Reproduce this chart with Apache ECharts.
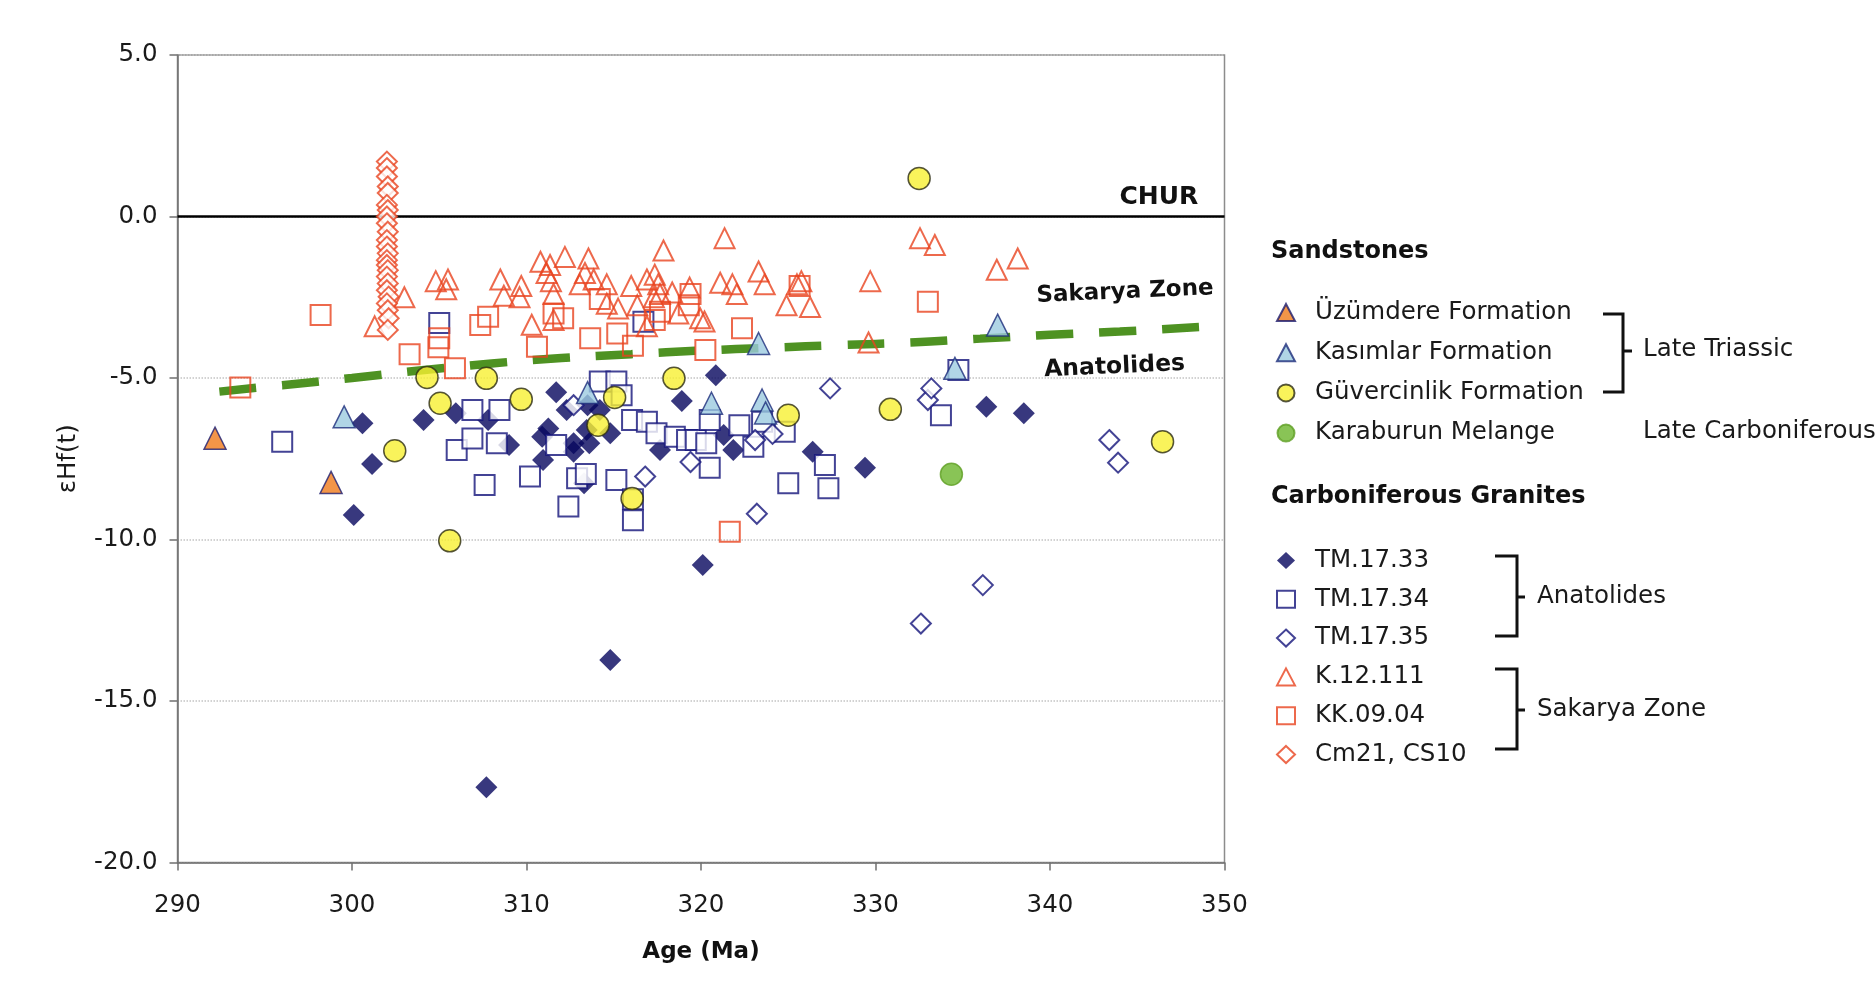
<!DOCTYPE html>
<html>
<head>
<meta charset="utf-8">
<script src="https://cdn.jsdelivr.net/npm/echarts@6/dist/echarts.min.js"></script>
<style>
  html, body { margin: 0; padding: 0; background: #ffffff; }
  #chart { width: 1876px; height: 1002px; }
</style>
</head>
<body>
<div id="chart"></div>
<script>
// ---- axes ----
const xMin = 290, xMax = 350, xStep = 10;
const yMin = -20, yMax = 5, yStep = 5;

// ---- reference lines ----
const churLine = [[290, 0], [350, 0]];
const zoneBoundary = [[292.4, -5.42], [296, -5.22], [300, -5.0], [304, -4.76], [308, -4.55], [312, -4.38],
  [316, -4.26], [320, -4.15], [324, -4.06], [328, -3.98], [332, -3.9], [336, -3.78], [340, -3.66],
  [344, -3.56], [348.9, -3.41]];

// ---- sandstones: [age (Ma), εHf(t)] ----
const uzumdere = [[292.15, -6.86], [298.8, -8.23]];
const kasimlar = [[299.55, -6.2], [313.5, -5.45], [320.6, -5.78], [323.3, -3.93], [323.5, -5.68],
  [323.7, -6.08], [334.55, -4.7], [337.0, -3.36]];
const guvercinlik = [[302.45, -7.25], [304.3, -4.98], [305.05, -5.78], [305.6, -10.04], [307.7, -5.01],
  [309.7, -5.66], [314.1, -6.46], [315.05, -5.6], [316.05, -8.73], [318.45, -5.01], [325.0, -6.15],
  [330.85, -5.97], [332.5, 1.18], [346.45, -6.97]];
const karaburun = [[334.35, -7.98]];

// ---- Carboniferous granites ----
const tm1733 = [[300.1, -9.24], [300.6, -6.4], [301.15, -7.66], [304.1, -6.3], [305.95, -6.09],
  [307.7, -17.67], [307.8, -6.3], [309.0, -7.07], [310.9, -6.82], [310.95, -7.54], [311.25, -6.56],
  [311.7, -5.44], [312.3, -5.99], [312.7, -7.02], [312.7, -7.28], [313.3, -8.26], [313.45, -6.61],
  [313.5, -5.84], [313.6, -7.02], [314.2, -5.99], [314.8, -6.71], [314.8, -13.73], [317.65, -7.23],
  [318.9, -5.71], [320.1, -10.79], [320.85, -4.91], [321.3, -6.76], [321.85, -7.23], [326.4, -7.28],
  [329.4, -7.78], [336.35, -5.89], [338.5, -6.09]];
const tm1734 = [[296.0, -6.97], [305.0, -3.3], [306.0, -7.23], [306.9, -5.99], [306.9, -6.87],
  [307.6, -8.31], [308.3, -7.02], [308.45, -5.99], [310.2, -8.05], [311.7, -7.07], [312.4, -8.98],
  [312.9, -8.1], [313.4, -7.97], [314.2, -5.11], [315.15, -5.11], [315.15, -8.16], [315.45, -5.53],
  [316.05, -6.3], [316.1, -8.75], [316.1, -9.4], [316.7, -3.26], [316.9, -6.35], [317.45, -6.71],
  [318.5, -6.82], [319.2, -6.92], [319.7, -6.92], [320.3, -7.02], [320.5, -6.3], [320.5, -7.78],
  [322.2, -6.46], [323.0, -7.13], [323.5, -6.35], [324.8, -6.66], [325.0, -8.26], [327.1, -7.69],
  [327.3, -8.41], [333.75, -6.15], [334.75, -4.75]];
const tm1735 = [[312.7, -5.84], [316.8, -8.05], [319.4, -7.6], [323.1, -6.92], [323.2, -9.2],
  [324.1, -6.73], [327.4, -5.32], [332.6, -12.6], [333.0, -5.68], [333.2, -5.32], [336.15, -11.41],
  [343.4, -6.92], [343.9, -7.62]];
const k12111 = [[301.3, -3.4], [303.0, -2.5], [304.8, -2.0], [305.5, -1.95], [305.4, -2.25],
  [308.5, -1.95], [308.7, -2.45], [309.7, -2.15], [309.6, -2.5], [310.3, -3.35], [310.8, -1.4],
  [311.35, -1.5], [311.15, -1.75], [312.2, -1.25], [311.4, -2.0], [311.55, -2.4], [311.55, -3.2],
  [313.55, -1.3], [313.35, -1.75], [313.05, -2.1], [313.85, -1.95], [314.6, -2.1], [314.6, -2.7],
  [315.25, -2.85], [316.0, -2.15], [316.35, -2.75], [316.9, -1.95], [317.35, -1.8], [317.85, -1.05],
  [317.65, -2.4], [317.55, -2.1], [318.35, -2.35], [317.3, -2.5], [319.35, -2.2], [316.9, -3.4],
  [318.7, -3.0], [320.2, -3.25], [319.95, -3.15], [321.35, -0.67], [321.1, -2.05], [321.8, -2.1],
  [322.05, -2.4], [323.3, -1.7], [323.65, -2.1], [325.5, -2.1], [325.75, -2.0], [324.9, -2.75],
  [326.25, -2.8], [329.7, -2.0], [329.6, -3.9], [332.55, -0.67], [333.4, -0.88], [336.95, -1.65],
  [338.15, -1.3]];
const kk0904 = [[293.6, -5.29], [298.2, -3.05], [303.3, -4.26], [305.0, -3.77], [304.95, -4.05],
  [305.9, -4.7], [307.35, -3.36], [307.8, -3.1], [310.6, -4.03], [311.55, -3.0], [312.1, -3.15],
  [313.65, -3.77], [314.2, -2.55], [315.2, -3.62], [316.1, -4.0], [317.35, -3.2], [317.65, -2.95],
  [319.4, -2.4], [319.3, -2.75], [320.25, -4.13], [322.35, -3.46], [325.65, -2.15], [333.0, -2.64],
  [321.65, -9.76]];
const cm21cs10 = [[302.0, 1.7], [302.0, 1.5], [302.0, 1.24], [302.05, 0.93], [302.05, 0.73],
  [302.0, 0.36], [302.05, 0.2], [302.0, 0.0], [302.0, -0.21], [302.05, -0.47], [302.0, -0.73],
  [302.0, -0.93], [302.05, -1.14], [302.0, -1.35], [302.0, -1.5], [302.05, -1.66], [302.0, -1.86],
  [302.05, -2.07], [302.0, -2.28], [302.1, -2.48], [302.0, -2.69], [302.05, -2.9], [302.1, -3.15],
  [302.05, -3.51]];

// ---- text ----
const sandstoneNames = ['Üzümdere Formation', 'Kasımlar Formation', 'Güvercinlik Formation', 'Karaburun Melange'];
const graniteNames = ['TM.17.33', 'TM.17.34', 'TM.17.35', 'K.12.111', 'KK.09.04', 'Cm21, CS10'];
const zoneLabels = [
  { text: 'CHUR', at: [348.5, 0.59], size: 25, rot: 0, align: 'right' },
  { text: 'Sakarya Zone', at: [344.3, -2.34], size: 23, rot: 2.5, align: 'center' },
  { text: 'Anatolides', at: [343.7, -4.66], size: 23.5, rot: 2.6, align: 'center' }
];

const FONT = 'DejaVu Sans';
const NAVY = '#06065e';
const NAVY_LINE = '#14147a';
const RED = '#e8431f';

function scatter(name, data, symbol, size, itemStyle) {
  return { type: 'scatter', name, data, symbol, symbolSize: size, itemStyle, z: 3,
    emphasis: { disabled: true }, animation: false };
}
const openStyle = (c) => ({ color: '#ffffff', borderColor: c, borderWidth: 2 });

const chart = echarts.init(document.getElementById('chart'), null, { renderer: 'canvas' });

const legendCommon = {
  orient: 'vertical', left: 1271, itemWidth: 18, itemHeight: 17, selectedMode: false,
  symbolKeepAspect: true,
  textStyle: { fontFamily: FONT, fontSize: 24.5, color: '#1a1a1a', padding: [0, 0, 0, 15] }
};

const option = {
  backgroundColor: '#ffffff',
  animation: false,
  grid: { left: 177.5, right: 651.5, top: 55, bottom: 139.4, show: true,
    borderColor: '#8c8c8c', borderWidth: 1.5, outerBoundsMode: 'none' },
  xAxis: {
    type: 'value', min: xMin, max: xMax, interval: xStep,
    name: 'Age (Ma)', nameLocation: 'middle', nameGap: 78,
    nameTextStyle: { fontFamily: FONT, fontWeight: 'bold', fontSize: 23, color: '#111' },
    axisLine: { show: true, onZero: false, lineStyle: { color: '#707070', width: 1.5 } },
    axisTick: { show: true, length: 8, lineStyle: { color: '#707070', width: 1.5 } },
    axisLabel: { margin: 31, fontFamily: FONT, fontSize: 24.5, color: '#1a1a1a' },
    splitLine: { show: false }
  },
  yAxis: {
    type: 'value', min: yMin, max: yMax, interval: yStep,
    name: 'εHf(t)', nameLocation: 'middle', nameGap: 96,
    nameTextStyle: { fontFamily: FONT, fontSize: 24.5, color: '#1a1a1a' },
    axisLine: { show: true, onZero: false, lineStyle: { color: '#707070', width: 1.5 } },
    axisTick: { show: true, length: 8, lineStyle: { color: '#707070', width: 1.5 } },
    axisLabel: { margin: 20, fontFamily: FONT, fontSize: 24.5, color: '#1a1a1a',
      formatter: (v) => v.toFixed(1) },
    splitLine: { show: true, lineStyle: { color: '#c4c4c4', type: 'dotted', width: 1.5 } }
  },
  legend: [
    Object.assign({ data: sandstoneNames, top: 295, itemGap: 15.2 }, legendCommon),
    Object.assign({ data: graniteNames, top: 543, itemGap: 13.8 }, legendCommon)
  ],
  series: [
    { type: 'line', name: 'CHUR', data: churLine, symbol: 'none', z: 1, silent: true,
      lineStyle: { color: '#000000', width: 2.5 } },
    { type: 'line', name: 'zone boundary', data: zoneBoundary, symbol: 'none', smooth: true, z: 2, silent: true,
      lineStyle: { color: '#4e9222', width: 8.5, type: [37, 26], cap: 'butt' } },
    scatter('TM.17.33', tm1733, 'diamond', 22, { color: NAVY }),
    scatter('TM.17.34', tm1734, 'rect', 20, openStyle(NAVY_LINE)),
    scatter('TM.17.35', tm1735, 'diamond', 20, openStyle(NAVY_LINE)),
    scatter('K.12.111', k12111, 'triangle', 20, { color: 'rgba(255,255,255,0)', borderColor: RED, borderWidth: 2 }),
    scatter('KK.09.04', kk0904, 'rect', 20, { color: 'rgba(255,255,255,0)', borderColor: RED, borderWidth: 2 }),
    scatter('Cm21, CS10', cm21cs10, 'diamond', 20, openStyle(RED)),
    scatter('Üzümdere Formation', uzumdere, 'triangle', 22, { color: '#f07a1a', borderColor: '#1c1c6e', borderWidth: 1.5 }),
    scatter('Kasımlar Formation', kasimlar, 'triangle', 22, { color: '#9ccbe0', borderColor: '#1c2c7a', borderWidth: 1.5 }),
    scatter('Güvercinlik Formation', guvercinlik, 'circle', 22, { color: '#f8f032', borderColor: '#2a2a14', borderWidth: 1.5 }),
    scatter('Karaburun Melange', karaburun, 'circle', 22, { color: '#6cb52c', borderColor: '#5f9f24', borderWidth: 1.5 })
  ]
};
chart.setOption(option);

// ---- text on the plot, anchored in data coordinates ----
const graphics = zoneLabels.map((l) => {
  const p = chart.convertToPixel({ gridIndex: 0 }, l.at);
  return { type: 'text', x: p[0], y: p[1], rotation: l.rot * Math.PI / 180, z: 10,
    style: { text: l.text, font: `bold ${l.size}px "${FONT}"`, fill: '#111111',
      align: l.align, verticalAlign: 'middle' } };
});

// ---- legend headings and brackets ----
const head = (text, y) => ({ type: 'text', x: 1271, y, z: 10,
  style: { text, font: `bold 24px "${FONT}"`, fill: '#111111', align: 'left', verticalAlign: 'middle' } });
const plain = (text, x, y) => ({ type: 'text', x, y, z: 10,
  style: { text, font: `24.5px "${FONT}"`, fill: '#1a1a1a', align: 'left', verticalAlign: 'middle' } });
const bracket = (x0, x1, y0, y1) => ({ type: 'polyline', z: 10,
  shape: { points: [[x0, y0], [x1, y0], [x1, y1], [x0, y1]] },
  style: { stroke: '#111111', lineWidth: 3, fill: null } });
const tick = (x0, x1, y) => ({ type: 'line', z: 10, shape: { x1: x0, y1: y, x2: x1, y2: y },
  style: { stroke: '#111111', lineWidth: 3 } });

graphics.push(
  head('Sandstones', 251.5),
  head('Carboniferous Granites', 497),
  bracket(1603, 1623, 314, 392), tick(1623, 1632, 351), plain('Late Triassic', 1643, 350),
  plain('Late Carboniferous', 1643, 432),
  bracket(1495, 1517, 556, 636), tick(1517, 1525, 597), plain('Anatolides', 1537, 597),
  bracket(1495, 1517, 669, 749), tick(1517, 1525, 710), plain('Sakarya Zone', 1537, 710)
);
chart.setOption({ graphic: graphics });
</script>
</body>
</html>
